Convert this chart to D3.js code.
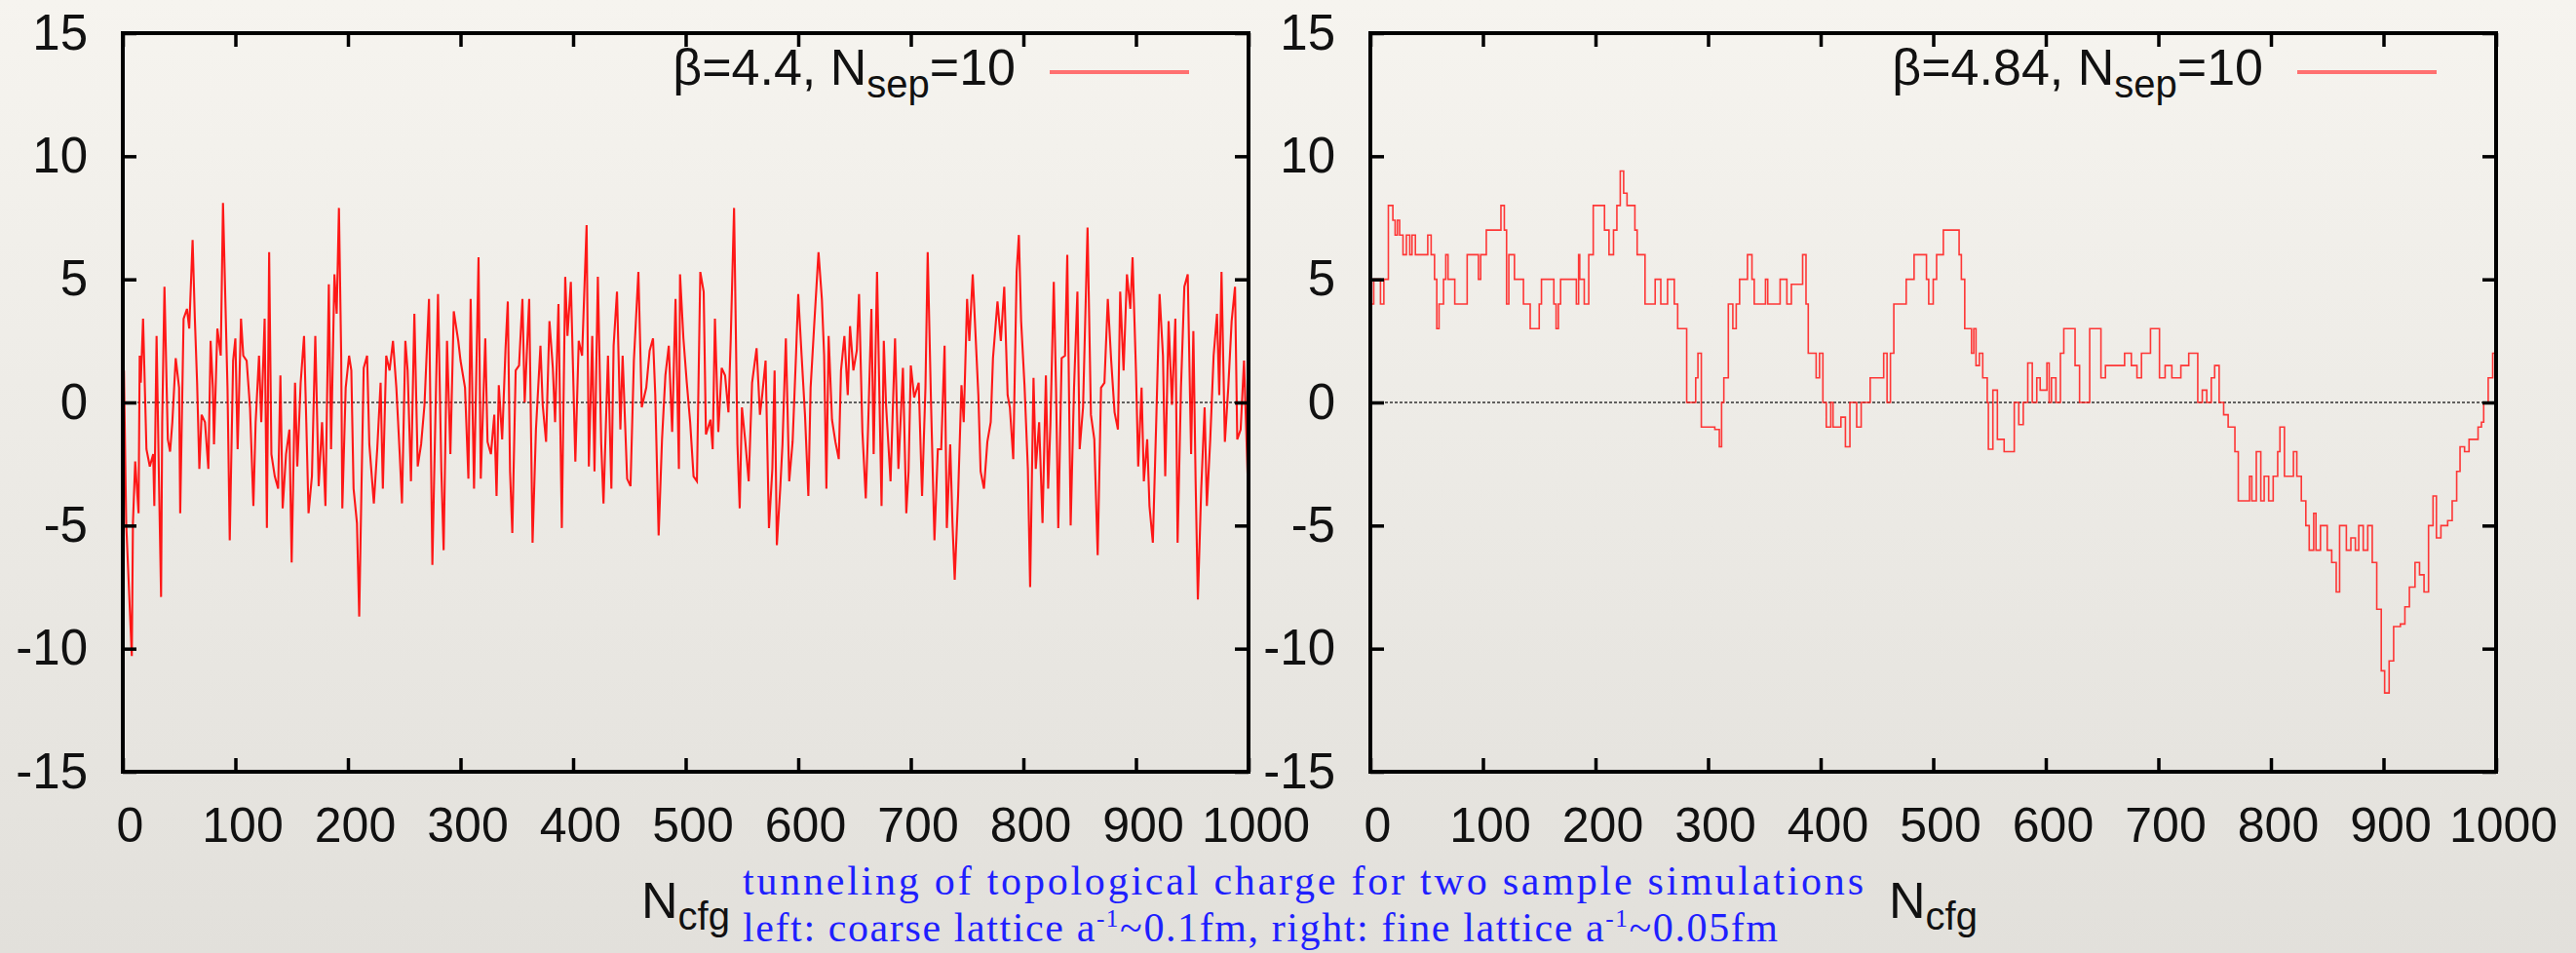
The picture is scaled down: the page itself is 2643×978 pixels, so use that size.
<!DOCTYPE html>
<html>
<head>
<meta charset="utf-8">
<title>Topological charge history</title>
<script src="https://cdn.jsdelivr.net/npm/d3@7"></script>
<style>
  html, body { margin: 0; padding: 0; background: #efede8; }
  svg { display: block; }
  .tick text { font-family: "Liberation Sans", Arial, sans-serif; fill: #111; }
</style>
</head>
<body>
<svg id="chart" width="2643" height="978"></svg>
<script>
// tick values (same for both panels)
var xTicks = [0, 100, 200, 300, 400, 500, 600, 700, 800, 900, 1000];
var yTicks = [-15, -10, -5, 0, 5, 10, 15];

// left panel: beta=4.4, [config, Q]
var leftTrace = [
  [1,1.3],[3,-4.9],[8,-10.3],[9,-4.9],[11,-2.4],[14,-4.5],[15,1.9],[16,0.8],[18,3.4],[21,-1.9],
  [24,-2.6],[27,-2.1],[28,-4.2],[30,2.7],[32,-2.8],[34,-7.9],[35,-0.8],[37,4.7],[40,-1.5],[42,-2.0],
  [44,-0.8],[47,1.8],[50,0.6],[51,-4.5],[54,3.4],[57,3.8],[59,3.0],[62,6.6],[64,3.4],[66,0.8],
  [68,-2.7],[70,-0.5],[73,-0.8],[76,-2.7],[78,2.5],[80,0.6],[81,-1.7],[84,3.0],[87,1.9],[89,8.1],
  [93,0.6],[95,-5.6],[98,1.7],[100,2.6],[102,-1.9],[105,3.4],[107,1.9],[110,1.7],[113,-0.2],[116,-4.2],
  [118,-0.8],[121,1.9],[123,-0.8],[126,3.4],[128,-5.1],[130,6.1],[132,-2.1],[135,-3.0],[138,-3.5],[140,1.1],
  [142,-4.3],[145,-2.1],[148,-1.1],[150,-6.5],[153,0.8],[155,-2.6],[158,0.8],[161,2.7],[163,-0.8],[165,-4.5],
  [168,-3.0],[171,2.7],[174,-3.4],[177,-0.8],[180,-4.2],[183,4.8],[185,-1.9],[188,5.2],[190,3.6],[192,7.9],
  [194,1.9],[195,-4.3],[198,0.6],[201,1.9],[203,1.3],[205,-3.5],[208,-4.9],[210,-8.7],[212,-3.5],[214,1.4],
  [217,1.9],[219,-1.7],[223,-4.1],[226,-1.9],[229,0.8],[231,-3.5],[234,1.9],[237,1.3],[240,2.5],[243,0.6],
  [246,-2.1],[248,-4.1],[251,2.5],[253,1.3],
  [256,-3.2],[259,3.6],[262,-2.6],[265,-1.7],[268,-0.1],[272,4.2],[275,-6.6],[277,-2.1],[280,4.4],[283,-2.8],
  [285,-6.0],[288,2.5],[291,-2.1],[294,3.7],[298,2.5],[300,1.7],[304,0.6],[307,-3.1],[309,4.2],[312,-3.5],
  [316,5.9],[318,-3.1],[322,2.6],[324,-1.6],[327,-2.1],[330,-0.5],[332,-3.8],[334,0.7],[337,-1.5],[340,2.2],
  [342,4.1],[344,-2.8],[346,-5.3],[349,1.3],[352,1.5],[355,4.2],[357,0.0],[361,4.2],[364,-5.7],[367,-1.1],
  [371,2.3],[373,-0.1],[376,-1.6],[379,3.3],[382,1.4],[384,-0.8],[387,4.0],[390,-5.1],[393,5.1],[395,2.7],
  [398,4.9],[402,-2.4],[405,2.5],[408,1.9],[412,7.2],[414,-2.6],[417,2.7],[419,-2.8],[422,5.1],[425,-1.7],
  [427,-4.1],[431,1.9],[434,-3.5],[436,2.3],[439,4.5],[442,-1.1],[444,1.9],[448,-3.1],[451,-3.4],[454,1.7],
  [458,5.3],[461,-0.2],[465,0.6],[468,2.1],[471,2.6],[473,0.3],[476,-5.4],[479,-1.5],[482,1.1],[485,2.3],
  [488,-1.2],[491,4.2],[494,-2.7],[495,5.2],[498,2.6],[501,0.8],[504,-0.8],
  [507,-3.0],[510,-3.2],[513,5.3],[516,4.5],[518,-1.3],[522,-0.7],[524,-1.9],[526,3.4],[529,-1.2],[532,1.4],
  [535,1.1],[538,-0.4],[540,2.5],[543,7.9],[546,-1.7],[548,-4.3],[550,-0.2],[553,-1.6],[556,-3.2],[559,0.8],
  [563,2.2],[566,-0.5],[568,0.3],[571,1.7],[574,-5.1],[577,-2.7],[579,1.3],[581,-5.8],[584,-3.5],[586,-1.7],
  [589,2.6],[592,-3.2],[595,-1.6],[598,1.9],[600,4.4],[603,1.9],[606,-0.5],[609,-3.8],[611,0.6],[614,3.0],
  [618,6.1],[621,4.2],[623,1.9],[625,-3.5],[627,2.7],[630,-0.7],[633,-1.6],[636,-2.3],[638,1.3],[641,2.7],
  [644,0.3],[646,3.1],[649,1.3],[652,2.1],[654,4.4],[657,-1.2],[660,-3.9],[662,-1.1],[665,3.8],[667,-2.1],
  [670,5.3],[674,-4.2],[676,2.5],[678,-0.1],[682,-3.2],[686,2.6],[689,-2.7],[693,1.4],[696,-4.5],[698,-2.8],
  [700,1.5],[703,0.2],[707,0.8],[710,-3.8],[713,0.6],[715,6.1],[718,-0.1],[721,-5.6],[724,-1.9],[727,-1.9],
  [730,2.3],[732,-5.1],[735,-1.7],[737,-4.9],[739,-7.2],[742,-3.8],[745,0.7],[747,-0.8],[750,4.2],[752,2.5],
  [755,5.2],
  [760,0.3],[762,-2.8],[765,-3.5],[768,-1.6],[771,-0.8],[773,1.8],[777,4.1],[780,2.5],[783,4.7],[786,0.3],
  [788,-0.2],[791,-2.3],[794,5.3],[796,6.8],[798,3.3],[801,0.7],[804,-2.7],[806,-7.5],[809,1.0],[811,-2.7],
  [814,-0.8],[817,-4.9],[820,1.1],[822,-3.5],[824,-0.9],[827,4.9],[829,0.6],[831,-5.1],[834,1.8],[837,1.9],
  [839,6.0],[842,-5.0],[845,0.6],[848,4.5],[850,-1.9],[853,-0.2],[857,7.1],[860,-0.5],[863,-1.5],[866,-6.2],
  [869,0.6],[872,0.8],[875,4.2],[878,1.7],[881,-0.4],[884,-1.1],[886,4.5],[889,1.3],[892,5.2],[895,3.8],
  [897,5.9],[900,1.3],[902,-2.6],[905,0.6],[907,-3.2],[910,-1.5],[912,-4.2],[915,-5.7],[918,-0.8],[921,4.4],
  [924,1.9],[926,-3.0],[929,3.3],[932,-0.1],[935,3.4],[937,-5.7],[940,0.6],[943,4.7],[946,5.2],[949,-2.1],
  [951,2.9],[953,-3.2],[955,-8.0],[958,-3.5],[961,-0.2],[963,-4.2],[966,-1.5],[969,1.9],[972,3.6],[974,0.3],
  [976,5.3],[979,-1.6],[982,0.6],[985,3.3],[988,4.7],[990,-1.5],[993,-1.1],[996,1.7],[1000,-4.1]
];

// right panel: beta=4.84, [config, Q]
var rightTrace = [
  [0,5],[1,4],[3,5],[9,4],[12,5],[16,8],[20,7.4],[22,6.8],[24,7.4],[26,6.8],[29,6],[32,6.8],[35,6],[37,6.8],
  [40,6],[49,6],[51,6.8],[54,6],[57,5],[59,3],[61,4],[65,5],[67,6],[69,5],[75,4],[84,4],[86,6],[96,5],
  [98,6],[103,7],[113,7],[116,8],[119,7],[121,4],[123,6],[128,5],[134,5],[136,4],[140,4],[142,3],[147,3],
  [150,4],[152,5],[161,5],[163,4],[165,3],[167,4],[169,5],[181,5],[183,4],[185,6],[186,5],[190,4],[194,6],
  [198,8],[204,8],[208,7],[212,6],[216,7],[219,8],[222,9.4],[225,8.5],[228,8],[233,8],[235,7],[237,6],
  [243,6],[244,4],[250,4],[253,5],[258,4],[263,4],[264,5],[268,5],[270,4],[273,3],[278,3],[281,0],[286,0],
  [289,1],[291,2],[294,-1],[306,-1.1],[310,-1.8],[312,0],[314,1],[318,4],[322,3],[325,4],[328,5],[333,5],
  [335,6],[339,5],[341,4],[349,4],[351,5],[353,4],[362,4],[364,5],[370,4],[374,4.8],[382,4.8],[384,6],
  [387,4],[389,2],[394,2],[396,1],[399,2],[402,0],[405,-1],[409,0],[411,-1],[418,-0.6],[422,-1.8],[426,0],
  [432,-1],[436,0],[442,0],[444,1],[454,1],[456,2],[459,0],[462,2],[465,4],[473,4],[476,5],[481,5],[483,6],
  [490,6],[494,5],[496,4],[500,5],[503,6],[509,7],[519,7],[523,6],[525,5],[528,3],[532,3],[534,2],[536,3],
  [538,1.5],[541,2],[544,1],[548,0],[549,-1.9],[553,0.5],[557,-1.5],[563,-2],[569,-2],[572,0],[576,-0.9],
  [580,0],[584,1.6],[588,0],[592,1],[595,0.5],[601,1.6],[603,0],[605,1],[609,0],[613,2],[616,3],[622,3],
  [626,1.5],[630,0],[636,0],[639,3],[645,3],[649,1],[653,1.5],[662,1.5],[670,2],[676,1.5],[681,1],[685,2],
  [693,3],[697,3],[701,1],[706,1.5],[712,1],[720,1.5],[727,2],[733,2],[735,0],[739,0.5],[743,0],[747,1],
  [750,1.5],[754,0],[758,-0.5],[762,-1],[766,-1],[768,-2],[771,-4],[777,-4],[781,-3],[783,-4],[787,-2],
  [791,-4],[794,-3],[798,-4],[802,-3],[806,-2],[808,-1],[812,-3],[817,-3],[820,-2],[823,-3],[827,-4],
  [831,-5],[834,-6],[838,-4.5],[840,-6],[844,-5],[850,-6],[854,-6.5],[858,-7.7],[861,-5],[867,-6],
  [871,-5.5],[875,-6],[878,-5],[882,-6],[886,-5],[890,-6.5],[894,-8.4],[898,-10.9],[901,-11.8],[905,-10.5],
  [909,-9.1],[915,-9],[919,-8.3],[923,-7.5],[928,-6.5],[932,-7],[936,-7.7],[940,-5],[944,-3.8],[947,-5.5],
  [951,-5],[957,-4.8],[961,-4],[965,-2.8],[968,-1.8],[972,-2],[976,-1.5],[984,-1],[987,-0.8],[989,0],
  [993,1],[997,2],[1000,2]
];

var legendBeta = ["4.4", "4.84"];
var legendNsep = "10";

var svg = d3.select("#chart");
var W = 2643, H = 978;
var plotTop = 34, plotBottom = 792;

// paper-like background
var defs = svg.append("defs");
var grad = defs.append("linearGradient").attr("id", "paper")
    .attr("x1", 0).attr("y1", 0).attr("x2", 0).attr("y2", 1);
grad.append("stop").attr("offset", "0%").attr("stop-color", "#f6f4ef");
grad.append("stop").attr("offset", "100%").attr("stop-color", "#e2e0db");
svg.append("rect").attr("width", W).attr("height", H).attr("fill", "url(#paper)");

var panels = [
    { left: 126,  right: 1281, trace: leftTrace,  beta: legendBeta[0], curve: d3.curveLinear,    color: "#ff0000", width: 2.1 },
    { left: 1406, right: 2561, trace: rightTrace, beta: legendBeta[1], curve: d3.curveStepAfter, color: "#ff2222", width: 1.6 }
];

panels.forEach(function(p) {
    var x = d3.scaleLinear().domain([0, 1000]).range([p.left, p.right]);
    var y = d3.scaleLinear().domain([-15, 15]).range([plotBottom, plotTop]);
    var g = svg.append("g");

    // zero line (dotted)
    g.append("line")
     .attr("x1", x(0)).attr("x2", x(1000))
     .attr("y1", y(0)).attr("y2", y(0))
     .attr("stroke", "#333").attr("stroke-width", 1.3)
     .attr("stroke-dasharray", "3,2");

    // data trace
    var line = d3.line()
        .x(function(d) { return x(d[0]); })
        .y(function(d) { return y(d[1]); })
        .curve(p.curve);
    g.append("path")
     .datum(p.trace)
     .attr("fill", "none")
     .attr("stroke", p.color)
     .attr("stroke-width", p.width)
     .attr("stroke-opacity", 0.9)
     .attr("d", line);

    // axes, inward ticks on all four sides
    var bottomAx = g.append("g")
        .attr("transform", "translate(0," + plotBottom + ")")
        .call(d3.axisBottom(x).tickValues(xTicks).tickSize(-14).tickPadding(36)
              .tickFormat(function(d) { return String(d); }));
    bottomAx.selectAll("text").attr("font-size", "50px").attr("dx", 7);

    g.append("g")
        .attr("transform", "translate(0," + plotTop + ")")
        .call(d3.axisTop(x).tickValues(xTicks).tickSize(-14).tickFormat(""));

    var leftAx = g.append("g")
        .attr("transform", "translate(" + p.left + ",0)")
        .call(d3.axisLeft(y).tickValues(yTicks).tickSize(-14).tickPadding(36)
              .tickFormat(function(d) { return String(d); }));
    leftAx.selectAll("text").attr("font-size", "51px");

    g.append("g")
        .attr("transform", "translate(" + p.right + ",0)")
        .call(d3.axisRight(y).tickValues(yTicks).tickSize(-14).tickFormat(""));

    g.selectAll(".domain").remove();
    g.selectAll(".tick line").attr("stroke", "#000").attr("stroke-width", 3.5);

    // frame
    g.append("rect")
     .attr("x", p.left).attr("y", plotTop)
     .attr("width", p.right - p.left).attr("height", plotBottom - plotTop)
     .attr("fill", "none").attr("stroke", "#000").attr("stroke-width", 4);

    // legend
    var leg = g.append("text")
        .attr("x", x(1000) - 239).attr("y", 87)
        .attr("text-anchor", "end")
        .attr("font-family", "Liberation Sans, Arial, sans-serif")
        .attr("font-size", "52px").attr("fill", "#111");
    leg.append("tspan").text("\u03b2=" + p.beta + ", N");
    leg.append("tspan").attr("dy", 13).attr("font-size", "40px").text("sep");
    leg.append("tspan").attr("dy", -13).text("=" + legendNsep);

    g.append("line")
     .attr("x1", x(1000) - 204).attr("x2", x(1000) - 61)
     .attr("y1", 74).attr("y2", 74)
     .attr("stroke", "#ff7070").attr("stroke-width", 4);

    // x axis title
    var xt = g.append("text")
        .attr("x", x(500)).attr("y", 942)
        .attr("text-anchor", "middle")
        .attr("font-family", "Liberation Sans, Arial, sans-serif")
        .attr("font-size", "52px").attr("fill", "#111");
    xt.append("tspan").text("N");
    xt.append("tspan").attr("dy", 12).attr("font-size", "40px").text("cfg");
});

// blue caption (letter spacing stretched to the reference line lengths)
var cap = svg.append("g")
    .attr("font-family", "Liberation Serif, 'Times New Roman', serif")
    .attr("font-size", "42px")
    .attr("fill", "#1f1fff");
cap.append("text").attr("x", 762).attr("y", 918)
    .attr("textLength", 1150).attr("lengthAdjust", "spacing")
    .text("tunneling of topological charge for two sample simulations");
var cap2 = cap.append("text").attr("x", 762).attr("y", 966)
    .attr("textLength", 1062).attr("lengthAdjust", "spacing");
cap2.append("tspan").text("left: coarse lattice a");
cap2.append("tspan").attr("dy", -15).attr("font-size", "60%").text("-1");
cap2.append("tspan").attr("dy", 15).text("~0.1fm, right: fine lattice a");
cap2.append("tspan").attr("dy", -15).attr("font-size", "60%").text("-1");
cap2.append("tspan").attr("dy", 15).text("~0.05fm");
</script>
</body>
</html>
